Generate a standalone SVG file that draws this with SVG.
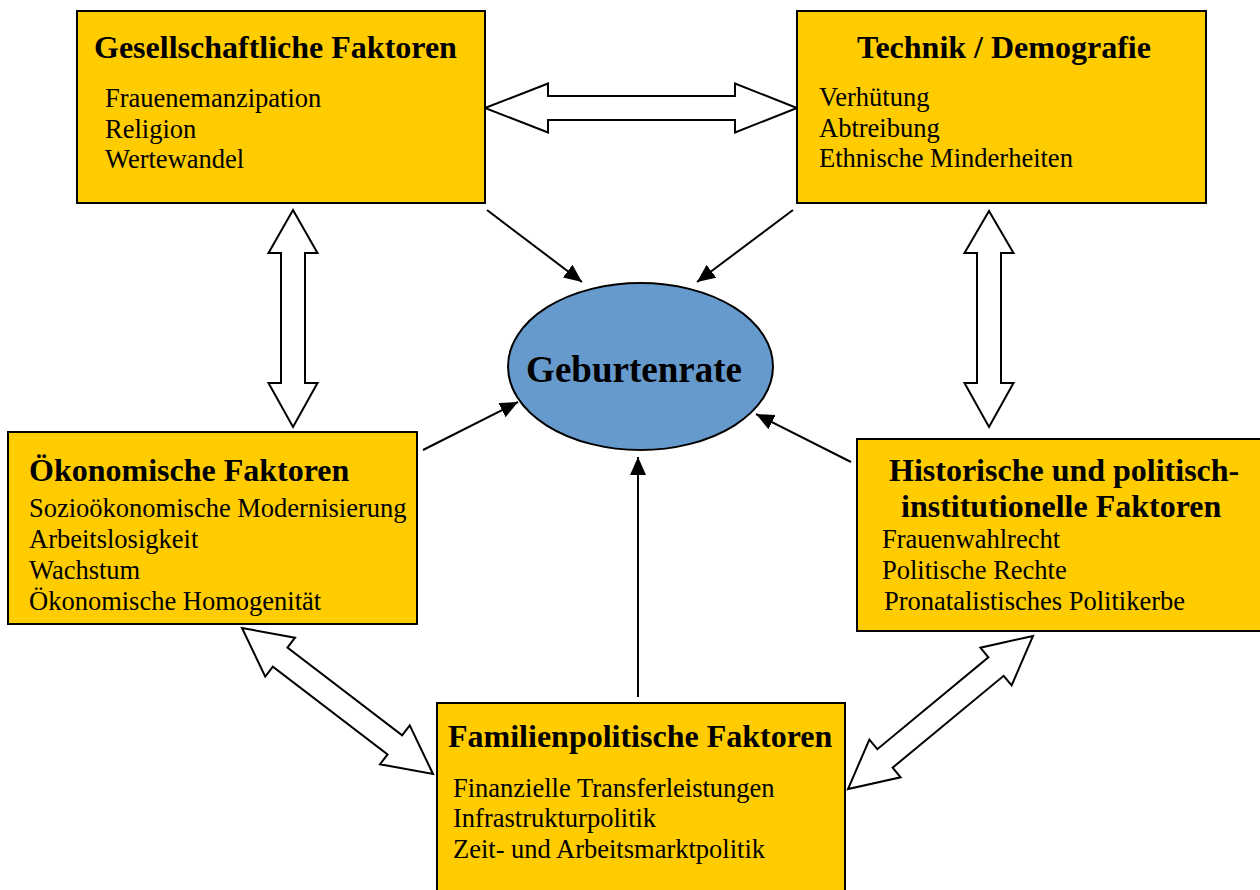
<svg xmlns="http://www.w3.org/2000/svg" width="1260" height="890" viewBox="0 0 1260 890">
<style>
.box{fill:#FFCC00;stroke:#000;stroke-width:2}
.t{font-family:"Liberation Serif","Times New Roman",serif;font-size:32px;font-weight:bold;fill:#000}
.i{font-family:"Liberation Serif","Times New Roman",serif;font-size:26.5px;fill:#000}
.dbl{fill:#fff;stroke:#000;stroke-width:2;stroke-linejoin:miter}
.ln{stroke:#000;stroke-width:2;fill:none;marker-end:url(#ah)}
</style>
<defs>
<marker id="ah" viewBox="0 0 18 16" refX="18" refY="8" markerWidth="18" markerHeight="16" markerUnits="userSpaceOnUse" orient="auto">
<path d="M0,0 L18,8 L0,16 z" fill="#000"/>
</marker>
</defs>
<rect width="1260" height="890" fill="#fff"/>
<g id="connectors">
<polygon class="dbl" points="485,108 548,83.5 548,96 735,96 735,83.5 797,108 735,132.5 735,120 548,120 548,132.5"/>
<polygon class="dbl" points="293,210 317.5,253 305,253 305,383 317.5,383 293,427 268.5,383 281,383 281,253 268.5,253"/>
<polygon class="dbl" points="989,211 1013.5,253 1001,253 1001,383 1013.5,383 989,427 964.5,383 977,383 977,253 964.5,253"/>
<polygon class="dbl" points="242,628 295.02,637.68 287.43,647.62 402.15,735.32 409.74,725.38 433,774 379.98,764.32 387.57,754.38 272.85,666.68 265.26,676.62"/>
<polygon class="dbl" points="1033,636 980.40,647.71 988.36,657.34 877.34,749.16 869.38,739.53 848,789 900.60,777.29 892.64,767.66 1003.66,675.84 1011.62,685.47"/>
<line class="ln" x1="487" y1="210" x2="582" y2="282"/>
<line class="ln" x1="793" y1="210" x2="697" y2="282"/>
<line class="ln" x1="423" y1="450" x2="518" y2="402"/>
<line class="ln" x1="851" y1="462" x2="756" y2="414"/>
<line class="ln" x1="638" y1="697" x2="638" y2="457"/>
</g>
<g id="gesellschaft">
<rect class="box" x="77" y="11" width="408" height="192"/>
<text class="t" x="94" y="58">Gesellschaftliche Faktoren</text>
<text class="i" x="105" y="107">Frauenemanzipation</text>
<text class="i" x="105" y="138">Religion</text>
<text class="i" x="105" y="168">Wertewandel</text>
</g>
<g id="technik">
<rect class="box" x="797" y="11" width="409" height="192"/>
<text class="t" x="857" y="58">Technik / Demografie</text>
<text class="i" x="819" y="106">Verhütung</text>
<text class="i" x="819" y="137">Abtreibung</text>
<text class="i" x="819" y="167">Ethnische Minderheiten</text>
</g>
<g id="geburtenrate">
<ellipse cx="640.5" cy="366.5" rx="132.5" ry="83.5" fill="#6699CC" stroke="#000" stroke-width="2"/>
<text class="t" x="634" y="382" text-anchor="middle" style="font-size:37px">Geburtenrate</text>
</g>
<g id="oekonomisch">
<rect class="box" x="8" y="432" width="409" height="192"/>
<text class="t" x="29" y="481">Ökonomische Faktoren</text>
<text class="i" x="29" y="517">Sozioökonomische Modernisierung</text>
<text class="i" x="29" y="548">Arbeitslosigkeit</text>
<text class="i" x="29" y="579">Wachstum</text>
<text class="i" x="29" y="610">Ökonomische Homogenität</text>
</g>
<g id="historisch">
<rect class="box" x="857" y="439" width="410" height="192"/>
<text class="t" x="889" y="481">Historische und politisch-</text>
<text class="t" x="901" y="517">institutionelle Faktoren</text>
<text class="i" x="882" y="548">Frauenwahlrecht</text>
<text class="i" x="882" y="579">Politische Rechte</text>
<text class="i" x="884" y="610">Pronatalistisches Politikerbe</text>
</g>
<g id="familie">
<rect class="box" x="437" y="703" width="408" height="200"/>
<text class="t" x="448" y="747">Familienpolitische Faktoren</text>
<text class="i" x="453" y="797">Finanzielle Transferleistungen</text>
<text class="i" x="453" y="827">Infrastrukturpolitik</text>
<text class="i" x="453" y="858">Zeit- und Arbeitsmarktpolitik</text>
</g>
</svg>
